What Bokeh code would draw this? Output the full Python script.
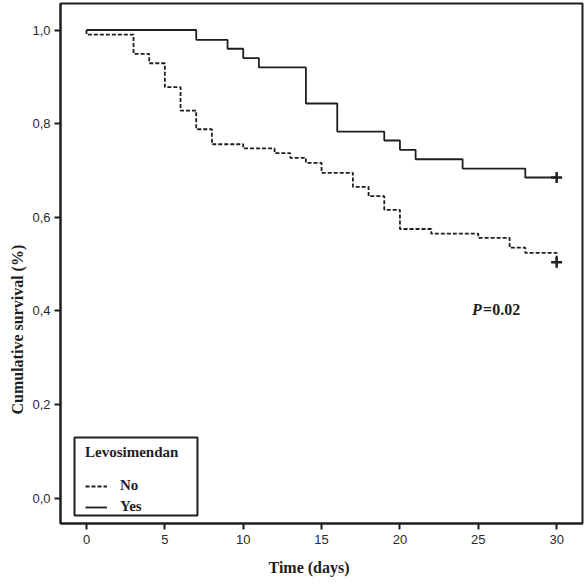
from bokeh.plotting import figure
from bokeh.models import FixedTicker, Range1d, Legend, LegendItem, Label, BoxAnnotation, Title
from bokeh.embed import file_html
from bokeh.resources import INLINE

# ---- data ----
yes_days = [0, 7, 9, 10, 11, 14, 16, 19, 20, 21, 24, 28, 30]
yes_surv = [1.0, 0.979, 0.960, 0.940, 0.920, 0.843, 0.783, 0.764, 0.744, 0.724, 0.704, 0.685, 0.685]

no_days = [0, 0, 3, 4, 5, 6, 7, 8, 10, 12, 13, 14, 15, 17, 18, 19, 20, 22, 25, 27, 28, 30]
no_surv = [1.0, 0.990, 0.949, 0.929, 0.878, 0.828, 0.788, 0.756, 0.747, 0.737, 0.727, 0.716,
           0.695, 0.665, 0.645, 0.616, 0.575, 0.565, 0.556, 0.535, 0.524, 0.504]

censor_days = [30, 30]
censor_surv = [0.685, 0.504]

x_ticks = [0, 5, 10, 15, 20, 25, 30]
y_ticks = [0.0, 0.2, 0.4, 0.6, 0.8, 1.0]
y_tick_labels = ["0,0", "0,2", "0,4", "0,6", "0,8", "1,0"]

INK = "#1e1e1e"
SERIF = "Liberation Serif"
SANS = "Liberation Sans"

p = figure(width=586, height=587, output_backend="svg", toolbar_location=None,
           x_range=Range1d(-1.66, 31.65), y_range=Range1d(-0.054, 1.0566),
           min_border_left=60, min_border_right=4, min_border_top=3, min_border_bottom=64)

p.grid.visible = False
p.outline_line_color = INK
p.outline_line_width = 2
p.outline_line_alpha = 1
p.background_fill_color = "white"
p.border_fill_color = "white"

p.xaxis.ticker = FixedTicker(ticks=x_ticks, minor_ticks=[])
p.yaxis.ticker = FixedTicker(ticks=y_ticks, minor_ticks=[])
p.yaxis.major_label_overrides = {t: l for t, l in zip(y_ticks, y_tick_labels)}

for ax in (p.xaxis, p.yaxis):
    ax.axis_line_color = INK
    ax.axis_line_width = 2
    ax.major_tick_line_color = INK
    ax.major_tick_line_width = 2
    ax.major_tick_out = 6
    ax.major_tick_in = 0
    ax.major_label_text_font = SANS
    ax.major_label_text_font_size = "13px"
    ax.major_label_text_color = "#2a2a2a"
p.xaxis.major_label_standoff = 5
p.yaxis.major_label_standoff = 4

# axis titles as side-panel titles, offset to where the reference has them
x_title = Title(text="Time (days)", align="left", offset=208, standoff=20,
                text_font=SERIF, text_font_style="bold", text_font_size="16px",
                text_color=INK)
y_title = Title(text="Cumulative survival (%)", align="left", offset=109, standoff=8,
                text_font=SERIF, text_font_style="bold", text_font_size="16px",
                text_color=INK)
p.add_layout(x_title, "below")
p.add_layout(y_title, "left")

r_no = p.step(x=no_days, y=no_surv, mode="after", line_color=INK, line_width=1.8,
              line_dash="4 2")
r_yes = p.step(x=yes_days, y=yes_surv, mode="after", line_color=INK, line_width=1.8)

p.scatter(x=censor_days, y=censor_surv, marker="cross", size=11, line_width=2.5,
          line_color=INK)

# legend frame
p.add_layout(BoxAnnotation(left=-0.766, right=7.08, bottom=-0.037, top=0.1296,
                           fill_color="white", fill_alpha=1, line_color=INK,
                           line_width=2, line_alpha=1))

legend = Legend(items=[LegendItem(label="No", renderers=[r_no]),
                       LegendItem(label="Yes", renderers=[r_yes])],
                location=(25, 8), title="Levosimendan", margin=0, padding=0,
                spacing=4, glyph_width=22, glyph_height=16, label_height=16,
                label_standoff=13, title_standoff=16)
legend.title_text_font = SERIF
legend.title_text_font_style = "bold"
legend.title_text_font_size = "15px"
legend.title_text_color = INK
legend.label_text_font = SERIF
legend.label_text_font_style = "bold"
legend.label_text_font_size = "15px"
legend.label_text_color = INK
legend.border_line_alpha = 0
legend.background_fill_alpha = 0
p.add_layout(legend)

p.add_layout(Label(x=24.6, y=0.403, text="P", text_font=SERIF, text_font_style="bold italic",
                   text_font_size="16px", text_baseline="middle", text_align="left",
                   text_color=INK))
p.add_layout(Label(x=24.6, y=0.403, x_offset=11, text="=0.02", text_font=SERIF,
                   text_font_style="bold", text_font_size="16px", text_baseline="middle",
                   text_align="left", text_color=INK))

open("out.html", "w").write(file_html(p, INLINE))
